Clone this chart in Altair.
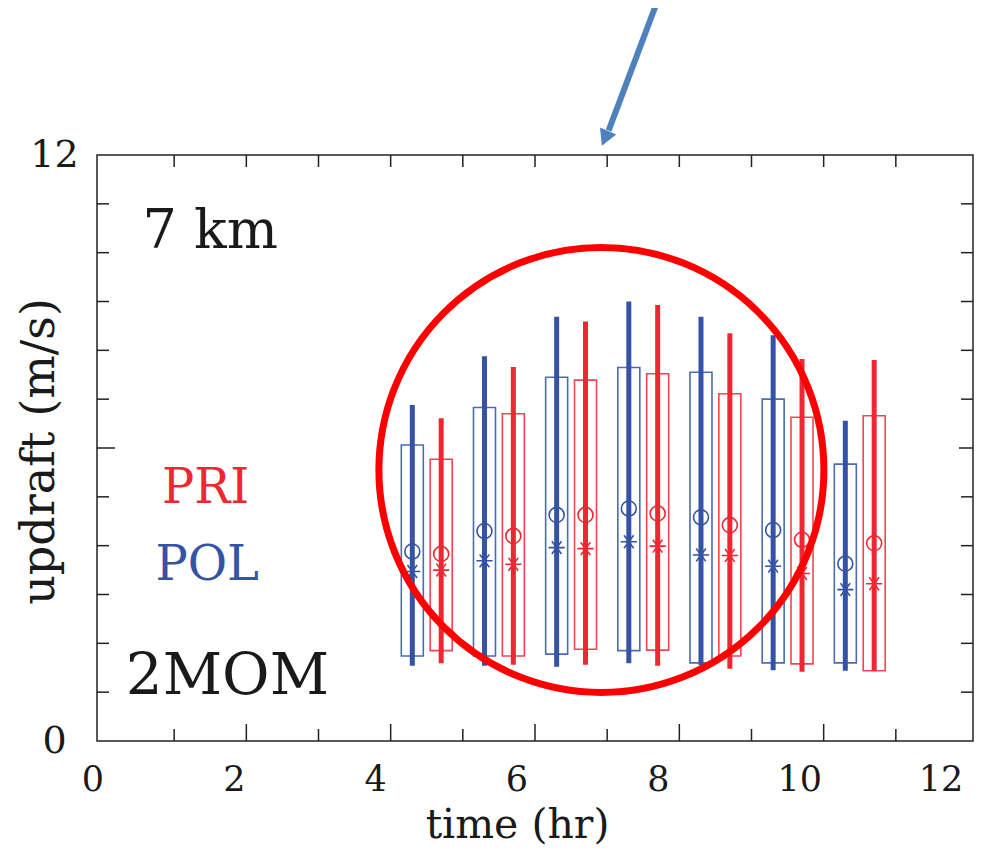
import altair as alt
import pandas as pd

FONT = "DejaVu Serif"

# ---- data ----
series_names = ["POL", "PRI"]

pol_time = [4.3, 5.3, 6.3, 7.3, 8.3, 9.3, 10.3]
pol_whisker_lo = [1.54, 1.54, 1.52, 1.59, 1.55, 1.45, 1.44]
pol_box_lo = [1.74, 1.74, 1.78, 1.85, 1.60, 1.60, 1.60]
pol_box_hi = [6.06, 6.83, 7.45, 7.65, 7.55, 7.00, 5.67]
pol_whisker_hi = [6.88, 7.88, 8.69, 9.00, 8.69, 8.31, 6.56]
pol_circle = [3.88, 4.30, 4.63, 4.76, 4.58, 4.32, 3.63]
pol_star = [3.47, 3.69, 3.96, 4.08, 3.81, 3.58, 3.10]

pri_time = [4.7, 5.7, 6.7, 7.7, 8.7, 9.7, 10.7]
pri_whisker_lo = [1.59, 1.56, 1.56, 1.54, 1.48, 1.42, 1.44]
pri_box_lo = [1.85, 1.74, 1.88, 1.86, 1.74, 1.58, 1.44]
pri_box_hi = [5.77, 6.70, 7.39, 7.52, 7.11, 6.63, 6.66]
pri_whisker_hi = [6.61, 7.66, 8.59, 8.93, 8.35, 7.82, 7.80]
pri_circle = [3.83, 4.20, 4.63, 4.66, 4.42, 4.12, 4.05]
pri_star = [3.50, 3.62, 3.94, 3.99, 3.80, 3.43, 3.22]

# annotations (data coordinates)
note_text = ["7 km", "PRI", "POL", "2MOM"]
note_x = [0.56, 0.83, 0.74, 0.33]
note_y = [10.10, 4.88, 3.30, 0.96]

highlight_x = [6.92]
highlight_y = [5.55]

arrow_x = [7.68, 7.02]
arrow_y = [15.09, 12.50]
arrow_head_x = [6.97]
arrow_head_y = [12.34]

# axis ticks / labels
x_tick_labels = [0, 2, 4, 6, 8, 10, 12]
x_major_ticks = [2, 4, 6, 8, 10]
x_minor_ticks = [1, 3, 5, 7, 9, 11]
inner_ticks = list(range(1, 12))
y_tick_labels = [0, 12]
y_long_ticks = [6]
y_short_ticks = [v for v in inner_ticks if v != 6]

# ---- tables ----
W, H = 876, 586

df = pd.DataFrame({
    "series": ["POL"] * len(pol_time) + ["PRI"] * len(pri_time),
    "t": pol_time + pri_time,
    "wlo": pol_whisker_lo + pri_whisker_lo,
    "blo": pol_box_lo + pri_box_lo,
    "bhi": pol_box_hi + pri_box_hi,
    "whi": pol_whisker_hi + pri_whisker_hi,
    "circle": pol_circle + pri_circle,
    "star": pol_star + pri_star,
})

xs = alt.Scale(domain=[0, 12], nice=False, zero=False)
ys = alt.Scale(domain=[0, 12], nice=False, zero=False)

color = alt.Color("series:N", scale=alt.Scale(domain=series_names, range=["#3553A4", "#EE2733"]), legend=None)
box_stroke = alt.Stroke("series:N", scale=alt.Scale(domain=series_names, range=["#4C6BB4", "#F04653"]), legend=None)

TXT = "#1a1a1a"
x_axis = alt.Axis(
    values=x_tick_labels, ticks=False, tickSize=0, domain=False, grid=False,
    labelAlign="center", labelBaseline="alphabetic", labelPadding=49,
    labelOffset=alt.ExprRef("-9.5 - 1.5 * datum.value"),
    labelFlush=False, labelFont=FONT, labelFontSize=35, labelColor=TXT,
    title="time (hr)", titleFont=FONT, titleFontSize=41, titleFontWeight="normal",
    titleColor=TXT, titleX=420, titleY=96, titleAlign="center", titleBaseline="alphabetic",
)
y_axis = alt.Axis(
    values=y_tick_labels, ticks=False, tickSize=0, domain=False, grid=False,
    labelAlign="center", labelBaseline="middle", labelPadding=43,
    labelFlush=False, labelFont=FONT, labelFontSize=38, labelColor=TXT,
    title="updraft (m/s)", titleFont=FONT, titleFontSize=46, titleFontWeight="normal",
    titleColor=TXT, titleX=-44, titleY=296, titleAlign="center", titleBaseline="alphabetic",
    titleAngle=270,
)


def X(f):
    return alt.X(f, type="quantitative", scale=xs, axis=x_axis)


def Y(f):
    return alt.Y(f, type="quantitative", scale=ys, axis=y_axis)


boxes = alt.Chart(df).mark_bar(size=22, fillOpacity=0, strokeWidth=1.6).encode(
    x=X("t"), y=Y("blo"), y2="bhi", stroke=box_stroke
)
whiskers = alt.Chart(df).mark_rule(strokeWidth=5).encode(
    x=X("t"), y=Y("wlo"), y2="whi", color=color
)
circles = alt.Chart(df).mark_point(shape="circle", size=225, strokeWidth=1.6, filled=False, opacity=1).encode(
    x=X("t"), y=Y("circle"), color=color
)
STAR = "M-1,0L1,0M-0.6,-0.8L0.6,0.8M-0.6,0.8L0.6,-0.8M0,-1L0,1"
stars = alt.Chart(df).mark_point(shape=STAR, size=260, strokeWidth=1.6, filled=False, opacity=1).encode(
    x=X("t"), y=Y("star"), color=color
)

notes = pd.DataFrame({"text": note_text, "x": note_x, "y": note_y})
note_styles = {"7 km": (54, TXT), "PRI": (48, "#EE2733"), "POL": (48, "#3553A4"), "2MOM": (58, TXT)}
text_layers = []
for name, (fs, col) in note_styles.items():
    text_layers.append(
        alt.Chart(notes[notes.text == name]).mark_text(
            font=FONT, fontSize=fs, color=col, align="left", baseline="alphabetic"
        ).encode(x=X("x"), y=Y("y"), text="text:N")
    )

hl = alt.Chart(pd.DataFrame({"x": highlight_x, "y": highlight_y})).mark_point(
    shape="circle", size=445 * 445, stroke="#FF0000", strokeWidth=7, filled=False, opacity=1
).encode(x=X("x"), y=Y("y"))

arrow_df = pd.DataFrame({"x": [arrow_x[0]], "y": [arrow_y[0]], "x2": [arrow_x[1]], "y2": [arrow_y[1]]})
shaft = alt.Chart(arrow_df).mark_rule(strokeWidth=6, color="#4F81BD").encode(
    x=X("x"), y=Y("y"), x2="x2", y2="y2"
)
head = alt.Chart(pd.DataFrame({"x": arrow_head_x, "y": arrow_head_y})).mark_point(
    shape="M0,-1L1.1,1L-1.1,1Z", size=256, angle=203, filled=True, color="#4F81BD", opacity=1
).encode(x=X("x"), y=Y("y"))

# inward ticks on all four sides
TK = "#222222"
bot_major = alt.Chart(pd.DataFrame({"v": x_major_ticks})).mark_rule(color=TK, strokeWidth=1.5).encode(
    x=X("v"), y=alt.value(H), y2=alt.value(H - 17))
bot_minor = alt.Chart(pd.DataFrame({"v": x_minor_ticks})).mark_rule(color=TK, strokeWidth=1.5).encode(
    x=X("v"), y=alt.value(H), y2=alt.value(H - 12))
top_t = alt.Chart(pd.DataFrame({"v": inner_ticks})).mark_rule(color=TK, strokeWidth=1.5).encode(
    x=X("v"), y=alt.value(0), y2=alt.value(12))
left_short = alt.Chart(pd.DataFrame({"v": y_short_ticks})).mark_rule(color=TK, strokeWidth=1.5).encode(
    y=Y("v"), x=alt.value(0), x2=alt.value(12))
left_long = alt.Chart(pd.DataFrame({"v": y_long_ticks})).mark_rule(color=TK, strokeWidth=1.5).encode(
    y=Y("v"), x=alt.value(0), x2=alt.value(18))
right_short = alt.Chart(pd.DataFrame({"v": y_short_ticks})).mark_rule(color=TK, strokeWidth=1.5).encode(
    y=Y("v"), x=alt.value(W), x2=alt.value(W - 12))
right_long = alt.Chart(pd.DataFrame({"v": y_long_ticks})).mark_rule(color=TK, strokeWidth=1.5).encode(
    y=Y("v"), x=alt.value(W), x2=alt.value(W - 14))

chart = alt.layer(
    boxes, whiskers, circles, stars,
    bot_major, bot_minor, top_t, left_short, left_long, right_short, right_long,
    *text_layers, hl, shaft, head,
).properties(
    width=W, height=H,
    autosize=alt.AutoSizeParams(type="none"),
    padding={"left": 89, "top": 147, "right": 7, "bottom": 110},
).configure_view(
    stroke="#222222", strokeWidth=1.5
)

chart.save("out.html", embed_options={"renderer": "svg", "actions": False})
